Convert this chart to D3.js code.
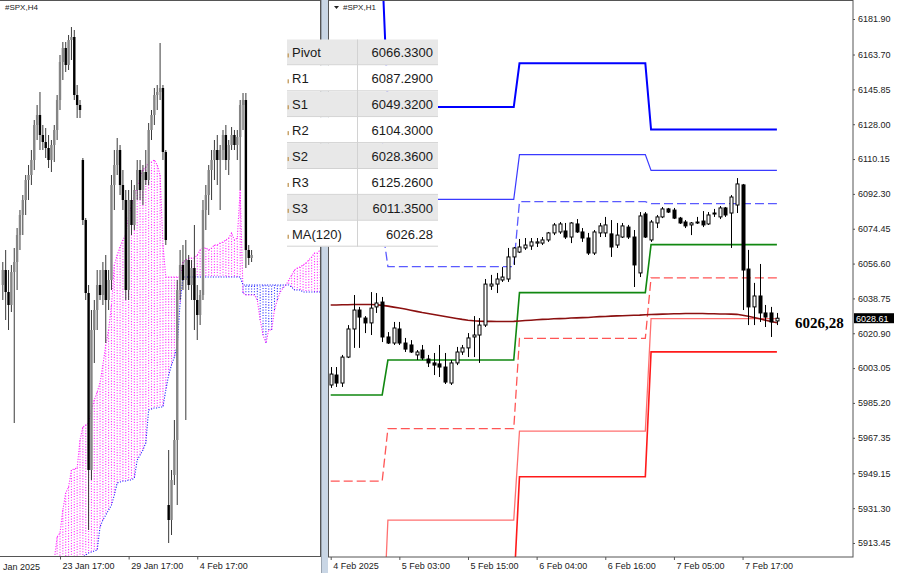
<!DOCTYPE html>
<html><head><meta charset="utf-8">
<script src="https://cdn.jsdelivr.net/npm/d3@7/dist/d3.min.js"></script>
<style>body{margin:0;background:#fff;}svg{display:block;}</style>
</head><body>
<svg id="c" width="900" height="573"></svg>
<script>
// ---------- RIGHT PANEL (#SPX,H1) ----------
const h1Open  = [5994.4,5999.5,5995.4,6008.7,6023.1,6032.8,6028.7,6026.2,6034.4,6036.9,6019.0,6015.9,6023.1,6015.9,6014.9,6009.8,6012.3,6007.7,6005.7,6005.2,6003.6,5995.4,6005.7,6011.3,6013.4,6019.0,6020.0,6025.1,6045.1,6046.1,6048.2,6048.7,6060.0,6062.5,6064.6,6065.6,6067.1,6067.1,6068.7,6072.3,6072.8,6073.3,6070.2,6076.9,6072.8,6069.7,6062.0,6072.3,6072.3,6071.8,6066.1,6070.2,6075.3,6070.2,6051.8,6082.0,6068.7,6077.4,6080.5,6084.6,6084.0,6079.9,6077.9,6076.4,6077.6,6078.4,6076.9,6082.5,6080.5,6085.1,6082.5,6086.6,6096.9,6053.8,6034.4,6040.0,6031.3,6031.3,6027.2];
const h1High  = [6003.6,6003.6,6009.8,6025.1,6040.5,6034.4,6029.7,6042.0,6041.5,6039.5,6021.5,6026.7,6026.7,6018.5,6017.4,6012.3,6014.9,6009.8,6010.8,6014.9,6010.8,6007.2,6013.9,6014.9,6021.0,6029.7,6028.7,6048.7,6050.8,6051.8,6054.8,6064.6,6065.1,6069.2,6069.7,6069.7,6069.7,6070.2,6072.8,6077.4,6077.9,6077.4,6077.9,6079.4,6074.8,6072.3,6073.8,6077.4,6080.5,6078.9,6077.4,6077.4,6076.4,6073.8,6083.0,6083.0,6078.9,6081.5,6085.6,6085.1,6085.1,6080.5,6078.9,6077.9,6080.5,6083.5,6083.0,6084.6,6086.1,6085.6,6091.7,6100.4,6097.4,6063.6,6046.7,6056.4,6035.4,6034.4,6031.3];
const h1Low   = [5992.9,5993.4,5993.4,6008.2,6013.4,6013.4,6021.0,6020.0,6031.3,6016.4,6015.4,6014.9,6014.9,6011.3,6010.8,6007.2,6007.2,6003.6,5999.5,5998.5,5994.9,5994.4,6004.6,6009.8,6008.7,6008.7,6005.7,6024.1,6043.1,6041.5,6047.2,6047.2,6055.9,6062.0,6063.6,6063.6,6065.1,6066.1,6067.7,6071.2,6071.8,6069.2,6067.1,6072.3,6067.7,6061.0,6061.0,6070.2,6070.2,6060.0,6064.6,6069.7,6069.2,6044.6,6049.7,6069.7,6067.7,6074.8,6079.9,6082.5,6079.4,6076.9,6074.8,6071.2,6076.9,6075.3,6076.4,6080.5,6079.4,6080.5,6064.6,6082.5,6032.8,6025.1,6025.1,6026.7,6024.1,6019.0,6025.1];
const h1Close = [6000.0,5995.4,6008.7,6023.1,6032.8,6029.2,6026.2,6033.8,6036.4,6019.0,6015.9,6023.6,6015.9,6012.8,6011.3,6011.3,6008.2,6005.7,6004.6,6003.6,5995.9,6005.7,6011.3,6013.4,6018.5,6020.0,6025.1,6046.1,6046.1,6048.7,6049.7,6060.0,6064.6,6065.1,6066.1,6067.7,6067.7,6068.7,6072.3,6076.4,6076.9,6070.2,6077.4,6072.8,6069.7,6062.0,6072.8,6075.9,6076.4,6065.1,6071.2,6075.9,6070.2,6055.9,6081.0,6070.2,6077.9,6080.5,6084.6,6083.0,6079.9,6077.4,6075.9,6077.4,6077.9,6076.4,6081.5,6082.2,6085.1,6081.5,6090.7,6097.4,6053.3,6034.4,6040.0,6031.3,6029.2,6026.7,6028.61];
const ma120 = [6035.4,6035.4,6035.5,6035.5,6035.6,6035.6,6035.6,6035.6,6035.5,6035.2,6034.8,6034.3,6033.8,6033.3,6032.7,6032.1,6031.5,6031.0,6030.5,6030.0,6029.5,6029.0,6028.5,6028.0,6027.6,6027.3,6027.1,6027.0,6027.0,6026.9,6026.9,6026.9,6027.0,6027.2,6027.4,6027.6,6027.8,6028.0,6028.1,6028.3,6028.4,6028.5,6028.7,6028.8,6028.9,6029.0,6029.2,6029.4,6029.5,6029.7,6029.8,6029.9,6030.0,6030.1,6030.2,6030.4,6030.5,6030.6,6030.7,6030.8,6030.9,6030.9,6031.0,6031.0,6031.0,6031.0,6030.9,6030.9,6030.8,6030.8,6030.7,6030.6,6030.1,6029.6,6029.0,6028.3,6027.6,6026.9,6026.3];
// daily pivot levels (day start bar index)
const dayStart = [0, 10, 33, 56];
const lastBar = 78;
const pivR3 = [6207.5, 6136.8, 6159.2, 6125.26];
const pivR2 = [6120.2, 6089.5, 6112.4, 6104.30];
const pivR1 = [6076.1, 6055.0, 6088.3, 6087.29];
const pivP  = [5989.3, 6007.2, 6041.7, 6066.33];
const pivS1 = [5945.2, 5972.0, 6018.3, 6049.32];
const pivS2 = [5858.4, 5925.2, 5970.8, 6028.36];
const pivS3 = [5814.3, 5889.0, 5947.4, 6011.35];
const yTicks = [6181.90,6163.70,6145.85,6128.00,6110.15,6092.30,6074.45,6056.60,6038.75,6020.90,6003.05,5985.20,5967.35,5949.15,5931.30,5913.45];
const h1TickBars = [0,12,24,36,48,60,72];
const h1TickLabels = ["4 Feb 2025","5 Feb 03:00","5 Feb 15:00","6 Feb 04:00","6 Feb 16:00","7 Feb 05:00","7 Feb 17:00"];
const lastPrice = 6028.61;
const maLabel = "6026,28";
const tableLabels = ["Pivot","R1","S1","R2","S2","R3","S3","MA(120)"];
const tableValues = ["6066.3300","6087.2900","6049.3200","6104.3000","6028.3600","6125.2600","6011.3500","6026.28"];

// ---------- LEFT PANEL (#SPX,H4) ----------
const h4Open  = [6025.0,6031.0,6022.2,6017.0,6030.2,6034.2,6045.0,6053.0,6059.0,6067.0,6069.0,6075.0,6089.0,6093.0,6085.0,6082.2,6079.8,6075.0,6081.0,6087.0,6099.0,6114.2,6119.8,6113.0,6123.0,6124.2,6101.0,6097.0,6075.0,6051.0,6021.8,5951.0,6007.0,6015.0,6025.0,6021.0,6031.0,6019.0,6027.0,6065.0,6073.0,6079.0,6065.0,6059.0,6023.0,6059.0,6049.0,6063.0,6071.0,6063.0,6070.2,6067.0,6087.0,6093.0,6101.0,6102.2,6103.8,6078.2,5937.0,5931.0,5949.0,5963.0,6023.0,6033.0,6027.0,6035.0,6025.0,6031.8,6019.0,6013.0,6021.0,6055.0,6061.0,6071.0,6075.0,6079.0,6075.0,6079.0,6085.0,6075.0,6081.0,6085.0,6081.0,6084.2,6097.0,6099.0,6039.0,6035.8];
const h4High  = [6034.2,6039.0,6031.0,6033.0,6039.8,6047.8,6055.0,6061.0,6069.0,6073.0,6079.0,6091.0,6097.0,6102.2,6089.0,6087.8,6085.0,6083.0,6089.0,6101.0,6117.0,6122.2,6122.2,6125.0,6128.2,6127.0,6105.0,6099.0,6075.8,6051.8,6025.0,6015.0,6019.0,6031.0,6031.0,6034.2,6037.0,6031.0,6069.0,6079.0,6083.8,6081.0,6071.0,6063.0,6063.0,6067.0,6065.0,6075.0,6075.0,6073.0,6079.0,6089.8,6095.0,6103.8,6105.0,6121.8,6105.0,6079.0,5959.0,5951.0,5971.0,6027.0,6039.0,6041.0,6043.0,6037.0,6035.0,6049.0,6025.0,6023.0,6059.0,6065.0,6073.0,6079.0,6083.0,6085.0,6081.0,6087.0,6089.0,6083.0,6088.2,6087.0,6087.0,6099.0,6101.8,6101.8,6041.0,6039.0];
const h4Low   = [6019.0,6011.0,6007.0,6014.2,5969.8,6023.0,6039.0,6045.0,6053.0,6059.0,6065.0,6071.0,6083.0,6079.0,6079.0,6075.8,6071.8,6070.2,6074.2,6083.0,6095.0,6107.0,6110.2,6111.0,6115.0,6099.0,6091.8,6091.8,6049.0,6019.0,5927.0,5947.0,5993.8,6007.0,6019.0,6017.0,6001.8,6015.0,6023.0,6055.0,6069.0,6061.0,6055.0,6019.0,6019.0,6045.0,6047.0,6059.0,6059.0,6057.0,6065.0,6065.0,6083.0,6089.0,6095.0,6099.0,6075.0,6041.0,5921.8,5925.0,5945.0,5937.0,6019.0,6023.0,5971.0,6023.0,6019.0,6007.0,6003.0,6009.0,6019.0,6047.0,6053.0,6059.0,6067.0,6065.0,6055.0,6075.0,6071.0,6069.0,6079.0,6079.0,6075.0,6063.0,6087.0,6031.8,6033.0,6034.2];
const h4Close = [6031.0,6022.2,6017.0,6030.2,6034.2,6045.0,6053.0,6059.0,6067.0,6069.0,6075.0,6089.0,6093.0,6085.0,6082.2,6079.8,6075.0,6081.0,6087.0,6099.0,6114.2,6119.8,6113.0,6123.0,6124.2,6101.0,6097.0,6095.0,6051.0,6021.8,5951.0,6007.0,6015.0,6025.0,6021.0,6031.0,6019.0,6027.0,6065.0,6073.0,6079.0,6065.0,6059.0,6023.0,6059.0,6049.0,6063.0,6071.0,6063.0,6070.2,6067.0,6087.0,6093.0,6101.0,6102.2,6103.8,6078.2,6043.0,5931.0,5947.0,5963.0,6023.0,6033.0,6027.0,6035.0,6025.0,6031.8,6019.0,6013.0,6021.0,6055.0,6061.0,6071.0,6075.0,6079.0,6075.0,6079.0,6085.0,6075.0,6081.0,6085.0,6081.0,6084.2,6097.0,6099.0,6039.0,6035.8,6037.0];
// Ichimoku cloud (Senkou span A / B), from bar index 18
const cloudStart = 18;
const spanA = [5915.0,5924.2,5925.8,5935.0,5941.8,5944.2,5951.0,5951.4,5951.8,5963.0,5968.2,5969.0,5969.8,5975.0,5979.0,5982.2,5985.8,5993.0,6001.0,6007.0,6017.0,6033.0,6037.0,6040.2,6043.0,6045.0,6053.0,6057.0,6061.0,6064.2,6067.8,6071.0,6072.2,6073.8,6074.2,6075.0,6073.0,6069.0,6041.0,6028.2,6028.2,6028.2,6028.2,6028.2,6028.2,6034.2,6035.0,6035.8,6035.8,6035.8,6037.0,6039.0,6039.8,6039.8,6039.0,6039.8,6041.0,6041.0,6041.8,6042.2,6043.0,6043.8,6045.8,6043.0,6043.8,6063.0,6021.8,6021.0,6021.0,6021.0,6021.0,6019.0,6011.0,6005.0,6001.8,6007.0,6007.0,6015.0,6019.0,6022.2,6023.8,6025.0,6027.0,6029.0,6031.0,6031.8,6032.2,6033.0,6033.8,6035.0,6036.2,6037.8,6037.8,6039.0];
const spanB = [5899.0,5899.8,5901.0,5902.2,5903.0,5903.8,5905.0,5907.0,5909.0,5913.0,5916.2,5917.0,5917.8,5918.2,5918.6,5919.0,5928.2,5931.0,5933.0,5935.0,5937.0,5941.0,5945.8,5946.2,5946.6,5946.6,5947.0,5947.0,5947.8,5955.0,5957.0,5959.0,5961.8,5975.0,5975.4,5975.8,5975.8,5976.2,5976.2,5983.0,5989.0,5993.0,5996.2,6001.0,6017.8,6028.2,6028.2,6028.2,6028.2,6028.2,6028.2,6028.2,6028.2,6028.2,6028.2,6028.2,6028.2,6028.2,6028.2,6028.2,6028.2,6028.2,6028.2,6028.2,6028.2,6028.2,6025.0,6025.0,6025.0,6025.0,6025.0,6025.0,6025.0,6025.0,6025.0,6025.0,6025.0,6025.0,6025.0,6025.0,6025.0,6025.0,6025.0,6024.2,6023.0,6023.0,6023.0,6022.2,6022.2,6022.2,6022.2,6022.2,6022.2,6022.2];
const h4TickBars = [20, 44, 68];
const h4TickLabels = ["23 Jan 17:00","29 Jan 17:00","4 Feb 17:00"];
const h4FirstLabel = "Jan 2025";

// ---------- DRAW ----------
const FONT = "'Liberation Sans', Arial, sans-serif";
const svg = d3.select("#c");
const defs = svg.append("defs");
defs.append("clipPath").attr("id","clipL").append("rect").attr("x",0).attr("y",1).attr("width",320).attr("height",555.5);
defs.append("clipPath").attr("id","clipR").append("rect").attr("x",329).attr("y",1).attr("width",524).attr("height",556);

// scales
const xR = d3.scaleLinear().domain([0, 78]).range([330.7, 776.9]);
const yR = d3.scaleLinear().domain([5913.45, 6181.90]).range([543, 19]);
const xL = d3.scaleLinear().domain([0, 87]).range([2.8, 251.6]);
const yL = d3.scaleLinear().domain([5916.2, 6139]).range([557, 0]);

// ---- Left panel ----
const gL = svg.append("g").attr("clip-path","url(#clipL)");
const cloudIdx = d3.range(spanA.length).map(k => k + cloudStart);
gL.append("g").selectAll("line").data(cloudIdx).join("line")
  .attr("x1", i => xL(i)).attr("x2", i => xL(i))
  .attr("y1", i => yL(spanA[i-cloudStart])).attr("y2", i => yL(spanB[i-cloudStart]))
  .attr("stroke", i => spanA[i-cloudStart] >= spanB[i-cloudStart] ? "#ff33ff" : "#3333ff")
  .attr("stroke-width", 1.1).attr("stroke-dasharray","1.1,1.6");
gL.append("path").datum(cloudIdx)
  .attr("d", d3.line().x(i => xL(i)).y(i => yL(spanA[i-cloudStart])))
  .attr("fill","none").attr("stroke","#ff22ff").attr("stroke-width",1.1).attr("stroke-dasharray","1.1,1.5");
gL.append("path").datum(cloudIdx)
  .attr("d", d3.line().x(i => xL(i)).y(i => yL(spanB[i-cloudStart])))
  .attr("fill","none").attr("stroke","#2020ff").attr("stroke-width",1.1).attr("stroke-dasharray","1.1,1.5");

const h4Idx = d3.range(h4Open.length);
const gLC = gL.append("g");
gLC.selectAll("line").data(h4Idx).join("line")
  .attr("x1", i => xL(i)).attr("x2", i => xL(i))
  .attr("y1", i => yL(h4High[i])).attr("y2", i => yL(h4Low[i]))
  .attr("stroke","#3a3a3a").attr("stroke-width",1);
gLC.selectAll("rect").data(h4Idx).join("rect")
  .attr("x", i => xL(i) - 1.2).attr("width", 2.4)
  .attr("y", i => yL(Math.max(h4Open[i], h4Close[i])))
  .attr("height", i => Math.max(1, Math.abs(yL(h4Open[i]) - yL(h4Close[i]))))
  .attr("fill", i => h4Close[i] >= h4Open[i] ? "#858585" : "#000");

// left frame and axis
svg.append("line").attr("x1",0).attr("x2",321).attr("y1",0.5).attr("y2",0.5).attr("stroke","#555");
svg.append("line").attr("x1",0).attr("x2",321).attr("y1",556.5).attr("y2",556.5).attr("stroke","#555");
svg.append("line").attr("x1",320.5).attr("x2",320.5).attr("y1",0).attr("y2",557).attr("stroke","#555");
const axL = svg.append("g").attr("transform","translate(0,556.5)")
  .call(d3.axisBottom(xL).tickValues(h4TickBars).tickFormat((d,i)=>h4TickLabels[i]).tickSize(3).tickPadding(3));
axL.select(".domain").remove();
axL.selectAll("line").attr("stroke","#555");
axL.selectAll("text").attr("text-anchor","start").attr("dx",2).attr("font-family",FONT).attr("font-size",9).attr("fill","#222");
svg.append("text").attr("x",3).attr("y",569.5).text(h4FirstLabel)
  .attr("font-family",FONT).attr("font-size",9).attr("fill","#222");
svg.append("text").attr("x",5).attr("y",10).text("#SPX,H4")
  .attr("font-family",FONT).attr("font-size",8).attr("fill","#222");

// separator
svg.append("rect").attr("x",321).attr("y",0).attr("width",7).attr("height",573).attr("fill","#c9d6e5");
svg.append("line").attr("x1",321.5).attr("x2",321.5).attr("y1",0).attr("y2",573).attr("stroke","#9aa4b0");

// ---- Right panel ----
const gR = svg.append("g").attr("clip-path","url(#clipR)");
const barIdx = d3.range(lastBar + 1);
function dayOf(i){ let d = 0; dayStart.forEach((s,k)=>{ if (i >= s) d = k; }); return d; }
const pivotDefs = [
  {lv: pivS3, c:"#ff1a1a", w:1.6, dash:null},
  {lv: pivS2, c:"#ff7070", w:1.3, dash:null},
  {lv: pivS1, c:"#ff5555", w:1.3, dash:"9,4"},
  {lv: pivR1, c:"#5a5aff", w:1.3, dash:"9,4"},
  {lv: pivR2, c:"#3a3aff", w:1.2, dash:null},
  {lv: pivR3, c:"#0000ff", w:2, dash:null},
  {lv: pivP,  c:"#118811", w:1.6, dash:null}
];
pivotDefs.forEach(p => {
  gR.append("path").datum(barIdx)
    .attr("d", d3.line().x(i => xR(i)).y(i => yR(p.lv[dayOf(i)])))
    .attr("fill","none").attr("stroke",p.c).attr("stroke-width",p.w)
    .attr("stroke-dasharray", p.dash);
});
gR.append("path").datum(barIdx)
  .attr("d", d3.line().x(i => xR(i)).y(i => yR(ma120[i])))
  .attr("fill","none").attr("stroke","#8b1010").attr("stroke-width",1.6);

const gRC = gR.append("g");
gRC.selectAll("line").data(barIdx).join("line")
  .attr("x1", i => Math.round(xR(i)) + 0.5).attr("x2", i => Math.round(xR(i)) + 0.5)
  .attr("y1", i => yR(h1High[i])).attr("y2", i => yR(h1Low[i]))
  .attr("stroke","#000").attr("stroke-width",1);
gRC.selectAll("rect").data(barIdx).join("rect")
  .attr("x", i => Math.round(xR(i)) - 1)
  .attr("width", 3)
  .attr("y", i => yR(Math.max(h1Open[i], h1Close[i])))
  .attr("height", i => Math.max(1, Math.abs(yR(h1Open[i]) - yR(h1Close[i]))))
  .attr("fill", i => h1Close[i] >= h1Open[i] ? "#fff" : "#000")
  .attr("stroke","#000").attr("stroke-width",1);

// right frame
svg.append("rect").attr("x",328.5).attr("y",0.5).attr("width",524.5).attr("height",556.5)
  .attr("fill","none").attr("stroke","#555");
const axY = svg.append("g").attr("transform","translate(853,0)")
  .call(d3.axisRight(yR).tickValues(yTicks).tickFormat(d3.format(".2f")).tickSize(2).tickPadding(3));
axY.select(".domain").remove();
axY.selectAll("line").attr("stroke","#555");
axY.selectAll("text").attr("font-family",FONT).attr("font-size",9).attr("fill","#222");
const axX = svg.append("g").attr("transform","translate(0,557)")
  .call(d3.axisBottom(xR).tickValues(h1TickBars).tickFormat((d,i)=>h1TickLabels[i]).tickSize(3).tickPadding(3));
axX.select(".domain").remove();
axX.selectAll("line").attr("stroke","#555");
axX.selectAll("text").attr("text-anchor","start").attr("dx",2).attr("font-family",FONT).attr("font-size",9).attr("fill","#222");

// current price tag
svg.append("rect").attr("x",854).attr("y",yR(lastPrice)-5).attr("width",40).attr("height",10).attr("fill","#000");
svg.append("text").attr("x",856).attr("y",yR(lastPrice)+3.5).text(lastPrice.toFixed(2))
  .attr("font-family",FONT).attr("font-size",9).attr("fill","#fff");
// MA label
svg.append("text").attr("x",795).attr("y",yR(ma120[lastBar])+5.5).text(maLabel)
  .attr("font-family","'Liberation Serif','Times New Roman',serif").attr("font-weight","bold")
  .attr("font-size",15).attr("fill","#000");
// title
svg.append("path").attr("d","M334,6 L339,6 L336.5,9 Z").attr("fill","#222");
svg.append("text").attr("x",343).attr("y",10).text("#SPX,H1")
  .attr("font-family",FONT).attr("font-size",8).attr("fill","#222");

// table
const tX = 287, tY = 39.5, tW = 151, rowH = 25.9, colX = 357.5;
const gT = svg.append("g");
tableLabels.forEach((lab, k) => {
  const y0 = tY + k*rowH;
  gT.append("rect").attr("x",tX).attr("y",y0).attr("width",tW).attr("height",rowH)
    .attr("fill", k % 2 === 0 ? "#e8e8e8" : "#fff");
  gT.append("line").attr("x1",tX).attr("x2",tX+tW).attr("y1",y0+rowH-0.5).attr("y2",y0+rowH-0.5)
    .attr("stroke","#d2d2d2");
  gT.append("rect").attr("x",tX+0.5).attr("y",y0+rowH/2+1).attr("width",1.5).attr("height",4).attr("fill","#c9a46a");
  gT.append("text").attr("x",tX+5).attr("y",y0+rowH/2+5).text(lab)
    .attr("font-family",FONT).attr("font-size",13).attr("fill","#1a1a1a");
  gT.append("text").attr("x",tX+tW-5).attr("y",y0+rowH/2+5).attr("text-anchor","end").text(tableValues[k])
    .attr("font-family",FONT).attr("font-size",13).attr("fill","#1a1a1a");
});
gT.append("line").attr("x1",colX).attr("x2",colX).attr("y1",tY).attr("y2",tY+rowH*tableLabels.length).attr("stroke","#d2d2d2");
</script>
</body></html>
